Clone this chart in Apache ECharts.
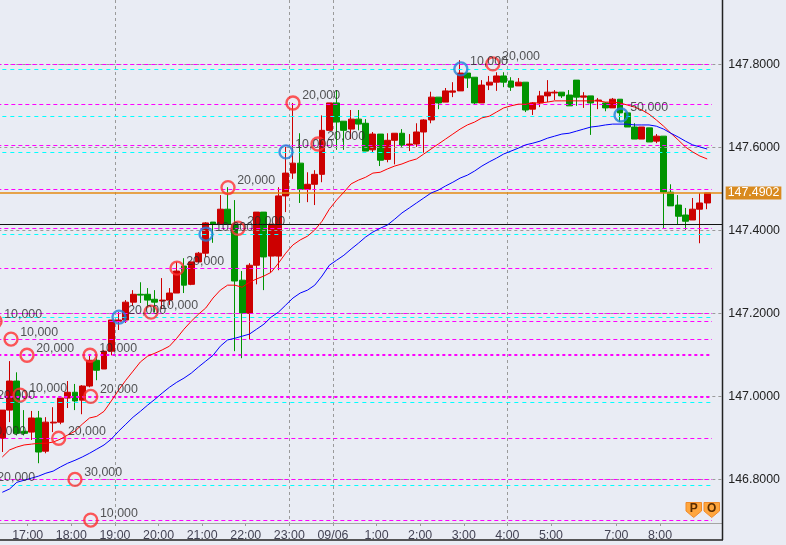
<!DOCTYPE html>
<html><head><meta charset="utf-8">
<style>html,body{margin:0;padding:0;background:#E9ECF4}#c{width:786px;height:545px}</style>
<script src="https://cdn.jsdelivr.net/npm/echarts@6/dist/echarts.min.js"></script>
</head><body><div id="c"></div>
<script>
// ---- data ----
const hiddenSlots = 5;
const opens = [146.899,146.967,147.037,146.916,146.914,146.948,146.868,146.936,146.938,146.996,147.010,146.991,147.025,147.087,147.066,147.109,147.181,147.184,147.227,147.246,147.246,147.234,147.230,147.232,147.249,147.314,147.270,147.324,147.345,147.420,147.415,147.451,147.415,147.280,147.200,147.316,147.444,147.338,147.338,147.483,147.538,147.562,147.499,147.511,147.535,147.641,147.707,147.663,147.644,147.668,147.658,147.594,147.632,147.571,147.617,147.634,147.605,147.608,147.637,147.666,147.721,147.709,147.733,147.736,147.779,147.769,147.707,147.750,147.757,147.772,147.760,147.748,147.757,147.692,147.707,147.724,147.731,147.733,147.726,147.762,147.721,147.724,147.712,147.707,147.695,147.716,147.683,147.649,147.620,147.647,147.615,147.627,147.492,147.461,147.437,147.425,147.451,147.466];
const closes = [146.967,147.037,146.911,146.911,146.948,146.866,146.938,146.938,146.996,147.010,146.989,147.025,147.087,147.063,147.109,147.184,147.184,147.227,147.246,147.244,147.232,147.227,147.232,147.249,147.302,147.268,147.324,147.345,147.418,147.415,147.451,147.415,147.278,147.200,147.316,147.444,147.336,147.415,147.483,147.538,147.562,147.499,147.511,147.535,147.641,147.707,147.661,147.641,147.668,147.656,147.591,147.632,147.569,147.617,147.634,147.605,147.608,147.637,147.666,147.721,147.707,147.736,147.736,147.779,147.767,147.707,147.750,147.757,147.772,147.757,147.745,147.757,147.690,147.707,147.724,147.733,147.733,147.724,147.700,147.721,147.724,147.707,147.714,147.695,147.716,147.683,147.649,147.620,147.649,147.613,147.627,147.492,147.459,147.434,147.422,147.451,147.466,147.4902];
const lows = [146.866,146.938,146.906,146.906,146.895,146.839,146.863,146.914,146.933,146.972,146.967,146.957,147.022,147.039,147.066,147.099,147.160,147.177,147.218,147.225,147.215,147.203,147.210,147.220,147.249,147.249,147.268,147.324,147.336,147.370,147.415,147.415,147.109,147.092,147.137,147.270,147.256,147.299,147.304,147.444,147.524,147.466,147.468,147.461,147.516,147.641,147.594,147.594,147.620,147.641,147.591,147.587,147.555,147.564,147.559,147.601,147.591,147.601,147.587,147.658,147.692,147.709,147.721,147.736,147.743,147.702,147.707,147.738,147.736,147.745,147.736,147.748,147.685,147.678,147.697,147.709,147.714,147.719,147.700,147.700,147.695,147.630,147.692,147.687,147.695,147.661,147.649,147.620,147.620,147.613,147.610,147.405,147.459,147.415,147.401,147.425,147.369,147.451];
const highs = [146.967,147.085,147.058,146.967,146.965,146.965,146.950,146.974,146.999,147.037,147.030,147.027,147.099,147.099,147.111,147.184,147.203,147.232,147.256,147.275,147.261,147.256,147.285,147.261,147.324,147.333,147.324,147.348,147.420,147.420,147.485,147.504,147.473,147.302,147.321,147.444,147.444,147.415,147.504,147.601,147.707,147.634,147.540,147.545,147.677,147.707,147.738,147.663,147.690,147.690,147.668,147.637,147.632,147.634,147.634,147.644,147.632,147.658,147.668,147.734,147.721,147.743,147.757,147.810,147.779,147.769,147.762,147.772,147.781,147.781,147.769,147.767,147.757,147.709,147.736,147.762,147.738,147.733,147.738,147.762,147.733,147.724,147.719,147.709,147.719,147.716,147.683,147.658,147.649,147.647,147.632,147.627,147.511,147.485,147.454,147.478,147.490,147.490];
const maFast = [146.854,146.871,146.878,146.883,146.885,146.887,146.887,146.890,146.897,146.907,146.916,146.933,146.948,146.952,146.964,146.989,147.015,147.039,147.061,147.083,147.097,147.104,147.112,147.121,147.140,147.162,147.181,147.198,147.213,147.237,147.256,147.268,147.268,147.263,147.275,147.283,147.290,147.299,147.321,147.345,147.365,147.377,147.386,147.401,147.422,147.451,147.473,147.492,147.512,147.521,147.528,147.538,147.540,147.548,147.555,147.560,147.567,147.572,147.584,147.596,147.608,147.620,147.632,147.644,147.654,147.661,147.671,147.675,147.685,147.695,147.700,147.704,147.704,147.707,147.707,147.709,147.712,147.712,147.712,147.712,147.712,147.712,147.712,147.709,147.709,147.707,147.702,147.697,147.690,147.680,147.666,147.651,147.634,147.618,147.601,147.589,147.579,147.572];
const maSlow = [146.769,146.777,146.793,146.798,146.803,146.808,146.815,146.820,146.830,146.839,146.846,146.854,146.863,146.873,146.883,146.897,146.916,146.933,146.950,146.964,146.979,146.993,147.008,147.022,147.034,147.044,147.056,147.071,147.085,147.099,147.121,147.136,147.140,147.145,147.150,147.162,147.174,147.191,147.203,147.220,147.237,147.249,147.256,147.268,147.290,147.316,147.328,147.340,147.355,147.369,147.384,147.396,147.405,147.413,147.427,147.442,147.454,147.466,147.478,147.490,147.497,147.507,147.516,147.526,147.533,147.543,147.555,147.565,147.574,147.584,147.591,147.598,147.606,147.610,147.615,147.622,147.627,147.632,147.634,147.639,147.644,147.649,147.651,147.654,147.656,147.656,147.656,147.654,147.654,147.654,147.651,147.644,147.634,147.625,147.615,147.606,147.601,147.596];
const magentaLevels = [147.8,147.705,147.606,147.5,147.404,147.308,147.201,147.18,147.137,146.898,146.8,146.702];
const magentaThick = [147.1,147.0];
const cyanLevels = [147.787,147.676,147.587,147.39,147.19,146.985,146.787];
const priceTicks = [147.8,147.6,147.4,147.2,147.0,146.8];
const crossLevel = 147.414;
const lastPrice = 147.4902;
const timeSlots = [3,9,15,21,27,33,39,45,51,57,63,69,75,81,90,96];
const timeTexts = ['16:00','17:00','18:00','19:00','20:00','21:00','22:00','23:00','09/06','1:00','2:00','3:00','4:00','5:00','7:00','8:00'];
const gridSlots = [21,45,51,75];
const circleSlots = [4.5,6.7,8.9,7.94,3.53,2.3,3.53,17.57,17.67,13.26,15.5,17.67,21.56,25.96,29.54,33.53,37.94,36.56,44.54,48.94,45.5,68.6,73,90.64];
const circlePrices = [147.181,147.138,147.099,147.003,146.986,146.899,146.788,147.099,147.0,146.899,146.8,146.702,147.191,147.203,147.309,147.391,147.405,147.503,147.589,147.608,147.707,147.789,147.801,147.678];
const circleTexts = ['10,000','10,000','20,000','10,000','20,000','10,000','20,000','10,000','20,000','20,000','30,000','10,000','20,000','10,000','20,000','10,000','20,000','20,000','10,000','20,000','20,000','10,000','20,000','50,000'];
const circleKinds = ['r','r','r','r','r','r','r','r','r','r','r','r','b','r','r','b','r','r','b','r','r','b','r','b'];

// ---- styles and layout ----
const FONT = '"Liberation Sans", Arial, sans-serif';
const RED='#CC0000', GREEN='#009400', BG='#E9ECF4';
const TOTAL = 105, SLOT = 7.267;
const Y_MIN = 146.695, Y_MAX = 147.955;
const LEVEL_END = 103.16, FRAME_END = 104.63;

const pad = n => Array(n).fill('-');
const candles = pad(hiddenSlots).concat(opens.map((o,i)=>[o,closes[i],lows[i],highs[i]]));
const slots = Array.from({length:TOTAL},(_,i)=>String(i));
const tickData = Array.from({length:TOTAL+1},(_,i)=>{const k=timeSlots.indexOf(i);return k<0?'':timeTexts[k];});
const hline = (v,end,style)=>[{coord:[0,v],lineStyle:style},{coord:[end,v]}];

const levelLines = []
  .concat(priceTicks.map(v=>hline(v,FRAME_END,{color:'#9a9a9a',width:1,type:[3,3]})))
  .concat(cyanLevels.map(v=>hline(v,LEVEL_END,{color:'#00FFFF',width:1,type:[4,4]})))
  .concat(magentaLevels.map(v=>hline(v,LEVEL_END,{color:'#FF00FF',width:1,type:[4,3]})))
  .concat(magentaThick.map(v=>hline(v,LEVEL_END,{color:'#FF00FF',width:2,type:[3,3]})));

const option = {
  backgroundColor: BG, animation:false,
  textStyle:{fontFamily:FONT},
  grid:{left:-37.67, top:0, width:TOTAL*SLOT, height:523, containLabel:false, outerBoundsMode:'none'},
  xAxis:[
    {type:'category',data:slots,boundaryGap:true,show:false},
    {type:'category',data:tickData,boundaryGap:false,position:'bottom',
      axisLine:{show:false},
      axisTick:{show:true,length:3,lineStyle:{color:'#9a9a9a'},interval:(i,v)=>v!==''},
      axisLabel:{show:true,interval:(i,v)=>v!=='',color:'#445',fontSize:12.4,fontFamily:FONT,margin:7,hideOverlap:false},
      splitLine:{show:true,interval:(i)=>gridSlots.includes(i),lineStyle:{color:'#9a9a9a',type:[3,3],width:1}}},
    {type:'value',min:0,max:TOTAL,show:false}
  ],
  yAxis:{type:'value',position:'right',offset:-2.7,min:Y_MIN,max:Y_MAX,scale:true,
    axisLine:{show:false},axisTick:{show:false},splitLine:{show:false},
    axisLabel:{customValues:priceTicks,color:'#222',fontSize:12.4,fontFamily:FONT,margin:5.6,formatter:v=>v.toFixed(4),showMinLabel:true,showMaxLabel:true}},
  series:[
    {type:'line',xAxisIndex:2,data:[],z:2,silent:true,
      markLine:{symbol:'none',silent:true,animation:false,label:{show:false},data:levelLines}},
    {type:'line',xAxisIndex:2,data:[],z:2,silent:true,
      markLine:{symbol:'none',silent:true,animation:false,label:{show:false},
        lineStyle:{color:'#9a9a9a',type:'solid',width:1},
        data:[hline(Y_MIN,FRAME_END,{color:'#a5a5a5',type:'solid',width:1.2})]}},
    {type:'candlestick',xAxisIndex:0,data:candles,barWidth:6.4,z:4,clip:true,
      itemStyle:{color:RED,color0:GREEN,borderColor:RED,borderColor0:GREEN,borderWidth:1}},
    {type:'line',xAxisIndex:0,data:pad(hiddenSlots).concat(maFast),showSymbol:false,symbol:'none',z:5,silent:true,lineStyle:{color:'#FF0000',width:1}},
    {type:'line',xAxisIndex:0,data:pad(hiddenSlots).concat(maSlow),showSymbol:false,symbol:'none',z:5,silent:true,lineStyle:{color:'#0000FF',width:1}},
    {type:'line',xAxisIndex:2,data:[],z:6,silent:true,
      markLine:{symbol:'none',silent:true,animation:false,
        data:[hline(crossLevel,FRAME_END,{color:'#111',type:'solid',width:1})].map(d=>{d[0].label={show:false};return d;})
          .concat([[{coord:[0,lastPrice],lineStyle:{color:'#E58A10',type:'solid',width:1.6},
            label:{show:true,position:'end',distance:3,formatter:lastPrice.toFixed(4),color:'#fff',fontFamily:FONT,fontSize:12.4,
              backgroundColor:'#D98A1E',padding:[1,2,1,2],lineHeight:11}},{coord:[FRAME_END,lastPrice]}]])}},
    {type:'scatter',xAxisIndex:2,z:7,silent:true,clip:true,symbol:'circle',symbolSize:13,
      data:circleSlots.map((s,i)=>({value:[s,circlePrices[i]],
        itemStyle:{color:'rgba(0,0,0,0)',borderWidth:2.4,borderColor:circleKinds[i]==='r'?'#FF3030':'#2080D8'},
        label:{show:true,formatter:circleTexts[i]}})),
      label:{position:'right',distance:1.5,offset:[0,-7],color:'#2a2a2a',fontSize:12.4,fontFamily:FONT}}
  ],
  graphic:[
    {type:'line',silent:true,shape:{x1:722.5,y1:0,x2:722.5,y2:540},style:{stroke:'#222',lineWidth:1.5},z:50},
    {type:'line',silent:true,shape:{x1:0,y1:540,x2:723,y2:540},style:{stroke:'#222',lineWidth:1.5},z:50},
    {type:'polygon',silent:true,shape:{points:[[686,502.5],[701.5,502.5],[701.5,511],[693.7,517.5],[686,511]]},style:{fill:'#FFA63D',stroke:'#F08A2A',lineWidth:1},z:50},
    {type:'polygon',silent:true,shape:{points:[[704,502.5],[719.5,502.5],[719.5,511],[711.7,517.5],[704,511]]},style:{fill:'#FFA63D',stroke:'#F08A2A',lineWidth:1},z:50},
    {type:'text',silent:true,x:693.7,y:509,style:{text:'P',fill:'#5a2c00',font:'bold 12px '+FONT,textAlign:'center',textVerticalAlign:'middle'},z:51},
    {type:'text',silent:true,x:711.7,y:509,style:{text:'O',fill:'#5a2c00',font:'bold 12px '+FONT,textAlign:'center',textVerticalAlign:'middle'},z:51}
  ]
};
const chart = echarts.init(document.getElementById('c'),null,{renderer:'canvas'});
chart.setOption(option);
</script></body></html>
